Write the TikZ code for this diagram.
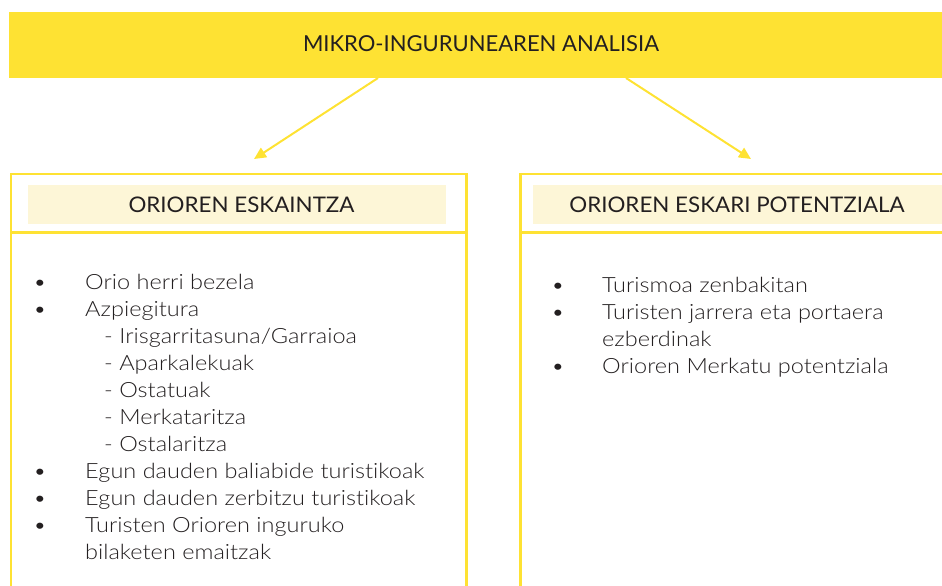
\documentclass[tikz,border=0pt]{standalone}
\usepackage{fontspec}
\setmainfont{Lato}[UprightFont=* Light]
\newfontfamily\listfont{Lato}[UprightFont=* Light, FakeStretch=1.12, Ligatures=NoCommon]
\newfontfamily\hdrfont{Lato}[FakeStretch=1.04, Ligatures=NoCommon]
\newfontfamily\banfont{Lato}[Ligatures=NoCommon]
\usetikzlibrary{arrows.meta}
\definecolor{ylw}{HTML}{FEE233}
\definecolor{hdrfill}{HTML}{FDF6D7}
\definecolor{ink}{HTML}{231F20}
\tikzset{
  border/.style={draw=ylw, line width=2.5pt},
  sep/.style={draw=ylw, line width=3.2pt},
  conn/.style={draw=ylw, line width=2pt, -{Triangle[length=12pt,width=11pt]}},
  hdr/.style={fill=hdrfill, inner sep=0pt, anchor=north west},
  txt/.style={text=ink, font=\listfont\fontsize{21pt}{24pt}\selectfont, anchor=base west, inner sep=0pt},
  bul/.style={text=ink, font=\listfont\fontsize{21pt}{24pt}\selectfont, anchor=base, inner sep=0pt},
  htxt/.style={text=ink, font=\hdrfont\fontsize{21.5pt}{24pt}\selectfont, anchor=base, inner sep=0pt}
}
\begin{document}
\begin{tikzpicture}[x=1pt,y=-1pt]
\useasboundingbox (0,0) rectangle (942,586);
% banner
\node[fill=ylw, inner sep=0pt, minimum width=933pt, minimum height=66pt, anchor=north west] (banner) at (9,12) {};
\node[htxt, font=\banfont\fontsize{22pt}{24pt}\selectfont] (btitle) at (481,52) {MIKRO-INGURUNEAREN ANALISIA};
% arrows
\coordinate (a1s) at (378,78);
\coordinate (a1e) at (254,159);
\coordinate (a2s) at (626,78);
\coordinate (a2e) at (751,159);
\draw[conn] (a1s) -- (a1e);
\draw[conn] (a2s) -- (a2e);
% left box
\draw[border] (11,586) -- (11,174) -- (466.5,174) -- (466.5,586);
\draw[sep] (11,232.5) -- (466.5,232.5);
\node[hdr, minimum width=418pt, minimum height=39pt] (lh) at (28,185) {};
\node[htxt] (lht) at (241.5,212) {ORIOREN ESKAINTZA};
% right box
\draw[border] (520.5,586) -- (520.5,174) -- (942,174);
\draw[sep] (520.5,232.5) -- (942,232.5);
\node[hdr, minimum width=409pt, minimum height=39pt] (rh) at (533,185) {};
\node[htxt] (rht) at (737,212) {ORIOREN ESKARI POTENTZIALA};
% left list
\foreach \y in {289,316,478,505,532}{\node[bul] at (40,\y) {•};}
\node[txt] (l1) at (85,289) {Orio herri bezela};
\node[txt] (l2) at (85,316) {Azpiegitura};
\node[txt] (l3) at (104,343) {- Irisgarritasuna/Garraioa};
\node[txt] (l4) at (104,370) {- Aparkalekuak};
\node[txt] (l5) at (104,397) {- Ostatuak};
\node[txt] (l6) at (104,424) {- Merkataritza};
\node[txt] (l7) at (104,451) {- Ostalaritza};
\node[txt] (l8) at (85,478) {Egun dauden baliabide turistikoak};
\node[txt] (l9) at (85,505) {Egun dauden zerbitzu turistikoak};
\node[txt] (l10) at (85,532) {Turisten Orioren inguruko};
\node[txt] (l11) at (85,559) {bilaketen emaitzak};
% right list
\foreach \y in {292,319,373}{\node[bul] at (558,\y) {•};}
\node[txt] (r1) at (602,292) {Turismoa zenbakitan};
\node[txt] (r2) at (602,319) {Turisten jarrera eta portaera};
\node[txt] (r3) at (602,346) {ezberdinak};
\node[txt] (r4) at (602,373) {Orioren Merkatu potentziala};
\end{tikzpicture}
\end{document}
